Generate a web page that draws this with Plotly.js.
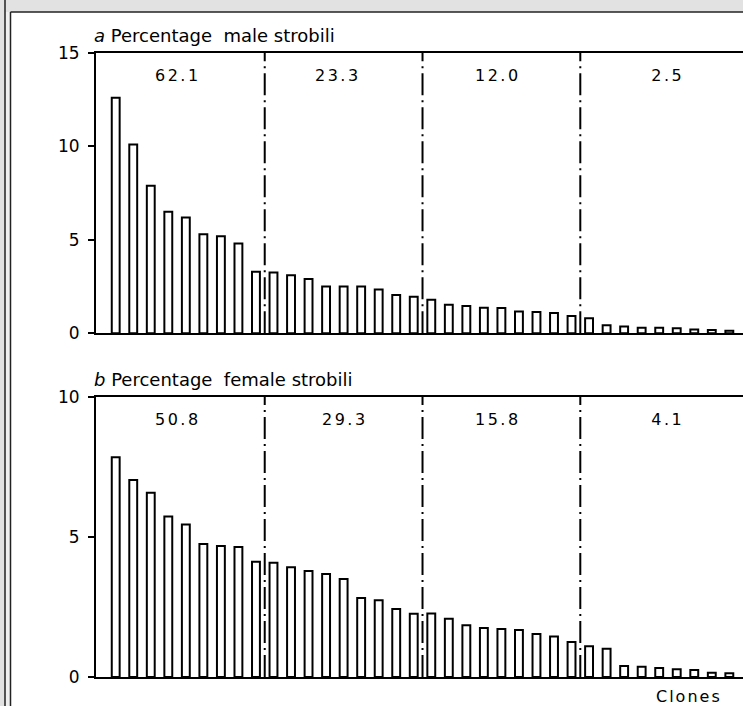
<!DOCTYPE html>
<html>
<head>
<meta charset="utf-8">
<script src="https://cdn.plot.ly/plotly-3.0.1.min.js"></script>
<style>
html, body { margin: 0; padding: 0; background: #e2e2e2; }
#chart { width: 743px; height: 706px; }
g.annotation[data-index="0"] text, g.annotation[data-index="1"] text,
g.annotation[data-index="2"] text, g.annotation[data-index="3"] text,
g.annotation[data-index="4"] text, g.annotation[data-index="5"] text,
g.annotation[data-index="6"] text, g.annotation[data-index="7"] text { letter-spacing: 2.5px; }
g.annotation[data-index="10"] text { letter-spacing: 2px; }
</style>
</head>
<body>
<div id="chart"></div>
<script>
// ---- data ----
const clones = [1,2,3,4,5,6,7,8,9,10,11,12,13,14,15,16,17,18,19,20,21,22,23,24,25,26,27,28,29,30,31,32,33,34,35,36];
const maleStrobili = [12.6,10.1,7.9,6.5,6.2,5.3,5.2,4.8,3.3,
                      3.25,3.1,2.9,2.5,2.5,2.5,2.35,2.05,1.95,
                      1.8,1.53,1.46,1.37,1.35,1.17,1.14,1.08,0.92,
                      0.8,0.43,0.36,0.3,0.3,0.27,0.2,0.17,0.13];
const femaleStrobili = [7.85,7.04,6.58,5.73,5.45,4.75,4.68,4.64,4.12,
                        4.08,3.92,3.79,3.68,3.5,2.82,2.74,2.43,2.26,
                        2.27,2.08,1.85,1.75,1.71,1.68,1.54,1.45,1.25,
                        1.1,1.01,0.39,0.37,0.32,0.28,0.25,0.15,0.13];
const groupBoundaries = [9.5, 18.5, 27.5];
const maleGroupTotals = ["62.1", "23.3", "12.0", "2.5"];
const femaleGroupTotals = ["50.8", "29.3", "15.8", "4.1"];
const maleTicks = [0, 5, 10, 15];
const femaleTicks = [0, 5, 10];

// ---- layout helpers (pixel -> paper) ----
const W = 743, H = 706;
const px = v => v / W;
const py = v => 1 - v / H;
const FONT = "DejaVu Sans, sans-serif";

const barStyle = { color: "white", line: { color: "black", width: 2 } };
const traces = [
  { type: "bar", x: clones, y: maleStrobili, xaxis: "x", yaxis: "y", width: 0.45, marker: barStyle, hoverinfo: "x+y" },
  { type: "bar", x: clones, y: femaleStrobili, xaxis: "x2", yaxis: "y2", width: 0.45, marker: barStyle, hoverinfo: "x+y" }
];

const xRange = [-0.124, 36.78];
function xAxis(anchor) {
  return { domain: [px(96), 1], range: xRange, anchor: anchor, showline: true, mirror: true,
           linecolor: "black", linewidth: 2, ticks: "", showticklabels: false,
           showgrid: false, zeroline: false, fixedrange: true };
}
function yAxis(anchor, domain, range, ticks) {
  return { domain: domain, range: range, anchor: anchor, showline: true, linecolor: "black",
           linewidth: 2, ticks: "outside", ticklen: 6, tickwidth: 2, tickcolor: "black",
           tickvals: ticks, ticktext: ticks.map(String), ticklabelstandoff: 5,
           tickfont: { family: FONT, size: 17, color: "black" },
           showgrid: false, zeroline: false, fixedrange: true };
}

const shapes = [
  // frame of the scanned page
  { type: "rect", xref: "paper", yref: "paper", x0: px(5), x1: px(10.5), y0: 0, y1: py(12), fillcolor: "#f0f0f0", line: { width: 0 }, layer: "below" },
  { type: "rect", xref: "paper", yref: "paper", x0: px(10.5), x1: 1, y0: 0, y1: py(12), fillcolor: "white", line: { width: 0 }, layer: "below" },
  { type: "line", xref: "paper", yref: "paper", x0: px(5), x1: px(5), y0: 0, y1: 1, line: { color: "#222", width: 1.5 } },
  { type: "line", xref: "paper", yref: "paper", x0: px(10.5), x1: px(10.5), y0: 0, y1: py(12), line: { color: "#222", width: 1.5 } },
  { type: "line", xref: "paper", yref: "paper", x0: px(10.5), x1: 1, y0: py(12), y1: py(12), line: { color: "#222", width: 1.5 } }
];
groupBoundaries.forEach(b => {
  ["", "2"].forEach(s => {
    shapes.push({ type: "line", xref: "x" + s, yref: "y" + s + " domain", x0: b, x1: b, y0: 0, y1: 1,
                  line: { color: "black", width: 2, dash: "22px,5px,2px,5px" } });
  });
});

const labelX = [4.55, 13.7, 22.8, 32.5];
const annotations = [];
maleGroupTotals.forEach((t, i) => annotations.push({ xref: "x", yref: "y", x: labelX[i], y: 13.8, text: t,
  showarrow: false, font: { family: FONT, size: 16, color: "black" } }));
femaleGroupTotals.forEach((t, i) => annotations.push({ xref: "x2", yref: "y2", x: labelX[i] + (i === 1 ? 0.4 : 0), y: 9.2, text: t,
  showarrow: false, font: { family: FONT, size: 16, color: "black" } }));
annotations.push({ xref: "paper", yref: "paper", x: px(92), y: py(48), xanchor: "left", yanchor: "bottom",
  text: "<i>a</i> Percentage\u00a0 male strobili", showarrow: false, font: { family: FONT, size: 18, color: "black" } });
annotations.push({ xref: "paper", yref: "paper", x: px(92), y: py(392), xanchor: "left", yanchor: "bottom",
  text: "<i>b</i> Percentage\u00a0 female strobili", showarrow: false, font: { family: FONT, size: 18, color: "black" } });
annotations.push({ xref: "paper", yref: "paper", x: px(689), y: py(685), xanchor: "center", yanchor: "top",
  text: "Clones", showarrow: false, font: { family: FONT, size: 16, color: "black" } });

const layout = {
  width: W, height: H,
  margin: { l: 0, r: 0, t: 0, b: 0 },
  paper_bgcolor: "#e2e2e2", plot_bgcolor: "rgba(0,0,0,0)",
  showlegend: false, bargap: 0,
  xaxis: xAxis("y"),
  yaxis: yAxis("x", [py(333.3), py(53)], [0, 15], maleTicks),
  xaxis2: xAxis("y2"),
  yaxis2: yAxis("x2", [py(677), py(397)], [0, 10], femaleTicks),
  shapes: shapes,
  annotations: annotations
};

Plotly.newPlot("chart", traces, layout, { staticPlot: true, displayModeBar: false });
</script>
</body>
</html>
